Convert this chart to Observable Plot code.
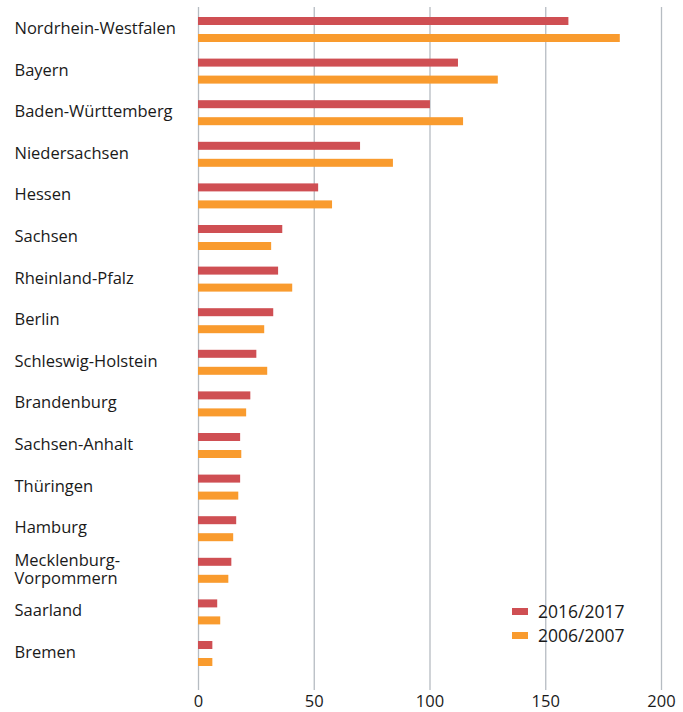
<!DOCTYPE html>
<html><head><meta charset="utf-8">
<script src="https://cdn.jsdelivr.net/npm/d3@7"></script>
<script src="https://cdn.jsdelivr.net/npm/@observablehq/plot@0.6"></script>
<style>
body{margin:0;background:#fff;font-family:"Open Sans",sans-serif}
#wrap{position:relative;width:683px;height:712px;overflow:hidden}
#legend{position:absolute;left:512px;top:599px;font-size:17.5px;color:#1a1a1a;line-height:24px}
#legend .item{display:flex;align-items:center}
#legend .sw{display:inline-block;width:16px;height:7px;margin-right:10px}
</style></head><body><div id="wrap"></div>
<script>
const states = ["Nordrhein-Westfalen","Bayern","Baden-Württemberg","Niedersachsen","Hessen","Sachsen","Rheinland-Pfalz","Berlin","Schleswig-Holstein","Brandenburg","Sachsen-Anhalt","Thüringen","Hamburg","Mecklenburg-Vorpommern","Saarland","Bremen"];
const values2016 = [160, 112.3, 100.2, 70, 51.9, 36.4, 34.6, 32.5, 25.2, 22.6, 18.2, 18.2, 16.5, 14.4, 8.3, 6.2];
const values2006 = [182.2, 129.5, 114.5, 84.2, 57.9, 31.6, 40.7, 28.6, 29.9, 20.8, 18.7, 17.4, 15.2, 13.1, 9.6, 6.2];
const seriesNames = ["2016/2017", "2006/2007"];
const seriesColors = ["#cf4f53", "#f99b2e"];
const xTicks = [0, 50, 100, 150, 200];

const rows2016 = states.map((s, i) => ({state: s, series: seriesNames[0], value: values2016[i]}));
const rows2006 = states.map((s, i) => ({state: s, series: seriesNames[1], value: values2006[i]}));

const step = (674.3 - 8.7) / states.length;
const font = '"Open Sans", sans-serif';

const chart = Plot.plot({
  width: 683,
  height: 712,
  marginLeft: 198,
  marginRight: 22,
  marginTop: 7,
  marginBottom: 22,
  style: {fontSize: "16.5px", fontFamily: font, color: "#1a1a1a", background: "#fff"},
  x: {domain: [0, 200], label: null},
  y: {domain: states, range: [8.7, 674.3], padding: 0, round: false, label: null},
  color: {domain: seriesNames, range: seriesColors},
  marks: [
    Plot.ruleX(xTicks, {stroke: "#b6bcc2", strokeWidth: 1.3}),
    Plot.barX(rows2016, {x: "value", y: "state", fill: d => d.series, insetTop: 8.3, insetBottom: step - 16.3}),
    Plot.barX(rows2006, {x: "value", y: "state", fill: d => d.series, insetTop: step - 16.3, insetBottom: 8.3}),
    Plot.axisX(xTicks, {tickSize: 0, tickPadding: 5, fontSize: 16.5, label: null}),
    Plot.axisY(states, {tickSize: 0, tickPadding: 0, textAnchor: "start", dx: -184, dy: -1.5, fontSize: 16.5, lineHeight: 1.05, label: null,
      tickFormat: d => d === "Mecklenburg-Vorpommern" ? "Mecklenburg-\nVorpommern" : d})
  ]
});
document.getElementById("wrap").appendChild(chart);

const legend = document.createElement("div");
legend.id = "legend";
seriesNames.forEach((name, i) => {
  const it = document.createElement("div");
  it.className = "item";
  const sw = document.createElement("span");
  sw.className = "sw";
  sw.style.background = seriesColors[i];
  it.appendChild(sw);
  it.appendChild(document.createTextNode(name));
  legend.appendChild(it);
});
document.getElementById("wrap").appendChild(legend);
</script>
</body></html>
